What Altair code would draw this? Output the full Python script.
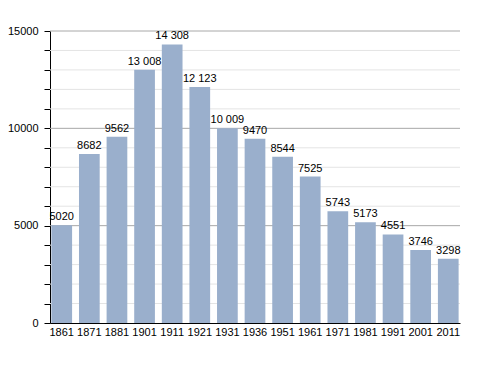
import altair as alt
import pandas as pd

years = ["1861", "1871", "1881", "1901", "1911", "1921", "1931", "1936",
         "1951", "1961", "1971", "1981", "1991", "2001", "2011"]
population = [5020, 8682, 9562, 13008, 14308, 12123, 10009, 9470,
              8544, 7525, 5743, 5173, 4551, 3746, 3298]
labels = ["5020", "8682", "9562", "13 008", "14 308", "12 123", "10 009", "9470",
          "8544", "7525", "5743", "5173", "4551", "3746", "3298"]
y_ticks = list(range(0, 15001, 1000))
minor_grid = [v for v in range(1000, 15000, 1000) if v % 5000 != 0]
major_grid = [5000, 10000, 15000]

df = pd.DataFrame({"year": years, "pop": population, "label": labels})
minor_df = pd.DataFrame({"v": minor_grid})
major_df = pd.DataFrame({"v": major_grid})

FONT = "Liberation Sans"

yscale = alt.Scale(domain=[0, 15000], nice=False)
yaxis = alt.Axis(values=y_ticks, grid=False, labelOverlap=False,
                 labelBound=False, labelFlush=False, title=None,
                 labelExpr="datum.value % 5000 == 0 ? datum.label : ''",
                 format="d",
                 domainColor="black", tickColor="black", tickSize=6,
                 labelFont=FONT, labelFontSize=11, labelColor="black",
                 labelPadding=6)

xenc = alt.X("year:N", sort=years, title=None,
             scale=alt.Scale(paddingInner=0.25, paddingOuter=0.05),
             axis=alt.Axis(labelAngle=0, ticks=False, domainColor="black",
                           labelFont=FONT, labelFontSize=11, labelColor="black",
                           labelPadding=3, title=None))

minor = alt.Chart(minor_df).mark_rule(color="#e4e4e4", strokeWidth=1).encode(
    y=alt.Y("v:Q", scale=yscale, axis=yaxis, title=None))
major = alt.Chart(major_df).mark_rule(color="#a8a8a8", strokeWidth=1).encode(
    y=alt.Y("v:Q", scale=yscale, axis=yaxis, title=None))

bars = alt.Chart(df).mark_bar(color="#9aafcc").encode(
    x=xenc, y=alt.Y("pop:Q", scale=yscale, axis=yaxis, title=None))
text = alt.Chart(df).mark_text(baseline="bottom", dy=-3, font=FONT, fontSize=11,
                               color="black").encode(
    x=xenc, y=alt.Y("pop:Q", scale=yscale, axis=yaxis, title=None),
    text="label:N")

chart = (minor + major + bars + text).properties(
    width=410, height=292,
    autosize=alt.AutoSizeParams(type="none"),
    padding={"left": 42, "top": 23, "right": 20, "bottom": 30},
).configure_view(stroke=None).configure_axisY(labelOverlap=False)

chart.save("out.html", embed_options={"renderer": "svg", "actions": False})
